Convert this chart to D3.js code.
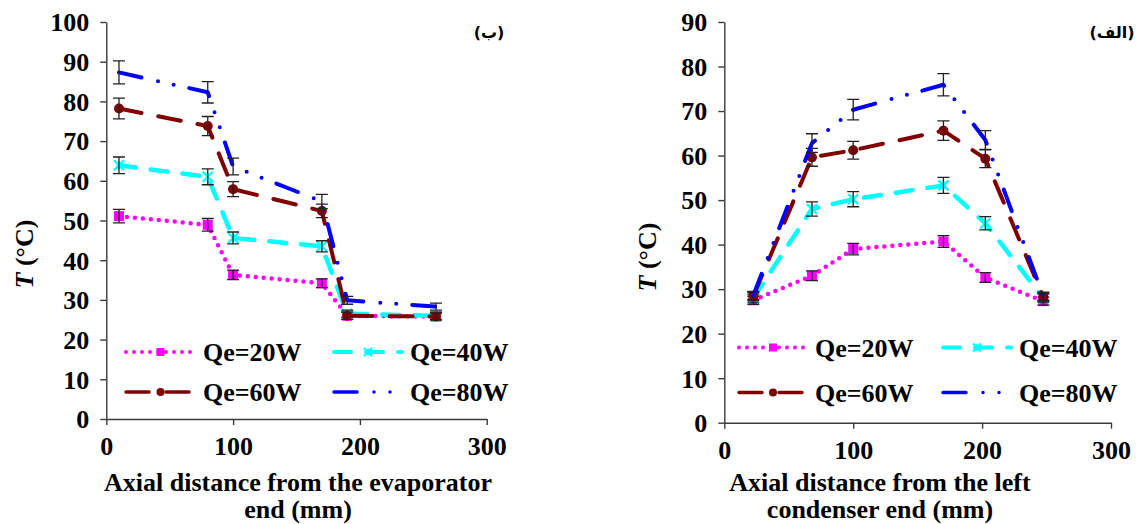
<!DOCTYPE html>
<html><head><meta charset="utf-8">
<script src="https://cdn.jsdelivr.net/npm/d3@7"></script>
<style>
html,body{margin:0;padding:0;background:#fff;}
svg{display:block;font-family:"Liberation Serif","Times New Roman",serif;}
</style></head>
<body><svg id="c" width="1138" height="524"></svg>
<script>
// ---------- data ----------
const seriesNames = ["Qe=20W","Qe=40W","Qe=60W","Qe=80W"];

// left panel (ب)
const leftX = [10, 80, 100, 170, 190, 260];
const leftQ20 = [51.1, 48.9, 36.3, 34.2, 26.0, 25.8];
const leftQ40 = [63.9, 61.0, 45.6, 43.5, 26.5, 26.0];
const leftQ60 = [78.2, 73.8, 57.9, 52.4, 26.0, 25.8];
const leftQ80 = [87.3, 82.3, 63.6, 54.8, 29.9, 28.3];
const leftE20 = [1.7, 1.6, 1.2, 1.1, 0.9, 0.9];
const leftE40 = [2.1, 2.0, 1.5, 1.4, 0.9, 0.9];
const leftE60 = [2.6, 2.4, 1.9, 1.7, 0.9, 0.9];
const leftE80 = [2.9, 2.7, 2.1, 1.8, 1.0, 0.9];
const leftYTicks = [0,10,20,30,40,50,60,70,80,90,100];

// right panel (الف)
const rightX = [22.5, 68, 100, 170, 202.5, 247.5];
const rightQ20 = [27.5, 33.0, 39.0, 40.7, 32.6, 27.3];
const rightQ40 = [28.0, 48.0, 50.2, 53.3, 44.8, 28.0];
const rightQ60 = [28.4, 59.6, 61.2, 65.6, 59.3, 28.2];
const rightQ80 = [28.6, 62.8, 70.3, 75.9, 63.5, 28.4];
const rightE20 = [0.9, 1.1, 1.3, 1.3, 1.1, 0.9];
const rightE40 = [0.9, 1.6, 1.7, 1.8, 1.5, 0.9];
const rightE60 = [0.9, 2.0, 2.0, 2.2, 2.0, 0.9];
const rightE80 = [0.9, 2.1, 2.3, 2.5, 2.1, 0.9];
const rightYTicks = [0,10,20,30,40,50,60,70,80,90];

const xTicks = [0,100,200,300];

// ---------- styles ----------
const styles = [
  {color:"#FF00FF", dash:"0 8", cap:"round", width:4.5, marker:"square"},
  {color:"#00FFFF", dash:"17 15", cap:"round", width:4.5, marker:"star"},
  {color:"#800000", dash:"23 17", cap:"round", width:4, marker:"circle"},
  {color:"#0000FF", dash:"23 17 0 16 0 16", cap:"round", width:4, marker:"none"}
];

const svg = d3.select("#c");
const AX = "#3a3a3a";
const FS = 26;

function drawMarker(g, type, color, x, y, s){
  if(type==="square"){
    g.append("rect").attr("x",x-s/2).attr("y",y-s/2).attr("width",s).attr("height",s).attr("fill",color);
  } else if(type==="circle"){
    g.append("circle").attr("cx",x).attr("cy",y).attr("r",s/2).attr("fill",color);
  } else if(type==="star"){
    const h=s/2;
    g.append("path").attr("d",`M${x-h},${y-h}L${x+h},${y+h}M${x-h},${y+h}L${x+h},${y-h}M${x},${y-h*0.8}L${x},${y+h*0.8}`)
      .attr("stroke",color).attr("stroke-width",2.2).attr("fill","none");
  }
}

function panel(cfg){
  const x = d3.scaleLinear().domain([0,300]).range(cfg.xr);
  const y = d3.scaleLinear().domain([0,cfg.ymax]).range(cfg.yr);
  const g = svg.append("g");

  // axes
  const xa = g.append("g").attr("transform",`translate(0,${y(0)})`)
    .call(d3.axisBottom(x).tickValues(xTicks).tickSize(6).tickSizeOuter(0).tickFormat(d3.format("d")));
  const ya = g.append("g").attr("transform",`translate(${x(0)},0)`)
    .call(d3.axisLeft(y).tickValues(cfg.yticks).tickSize(6).tickSizeOuter(0).tickFormat(d3.format("d")));
  [xa,ya].forEach(a=>{
    a.selectAll("path,line").attr("stroke",AX).attr("stroke-width",1.4);
    a.selectAll("text").attr("fill","#000").attr("font-size",FS).attr("font-weight","bold")
      .attr("font-family","Liberation Serif, Times New Roman, serif");
  });
  xa.selectAll("text").attr("dy",null).attr("y",36);
  ya.selectAll("text").attr("x",-17).attr("dy","0.34em");

  // series
  cfg.series.forEach((vals,i)=>{
    const st = styles[i];
    const errs = cfg.errs[i];
    const pts = cfg.xs.map((xv,j)=>[xv,vals[j],errs[j]]);
    const sg = g.append("g");
    sg.append("path").datum(pts)
      .attr("d", d3.line().x(d=>x(d[0])).y(d=>y(d[1])))
      .attr("fill","none").attr("stroke",st.color).attr("stroke-width",st.width)
      .attr("stroke-dasharray",st.dash).attr("stroke-linecap",st.cap).attr("stroke-linejoin","round");
    pts.forEach(d=>drawMarker(sg, st.marker, st.color, x(d[0]), y(d[1]), 10));
    // error bars
    const eg = sg.append("g").attr("stroke","#222").attr("stroke-width",1.3).attr("fill","none");
    pts.forEach(d=>{
      const cx = x(d[0]), y1 = y(d[1]+d[2]), y2 = y(d[1]-d[2]);
      eg.append("path").attr("d",`M${cx},${y1}L${cx},${y2}M${cx-6},${y1}L${cx+6},${y1}M${cx-6},${y2}L${cx+6},${y2}`);
    });
  });

  // legend
  const lg = g.append("g");
  seriesNames.forEach((name,i)=>{
    const st = styles[i];
    const col = i%2, row = Math.floor(i/2);
    const lx0 = cfg.leg.x[col], lx1 = cfg.leg.x2[col], ly = cfg.leg.y[row];
    lg.append("line").attr("x1",lx0).attr("x2",lx1).attr("y1",ly).attr("y2",ly)
      .attr("stroke",st.color).attr("stroke-width",st.width-0.5)
      .attr("stroke-dasharray",st.dash).attr("stroke-linecap",st.cap);
    drawMarker(lg, st.marker, st.color, (lx0+lx1)/2, ly, 8);
    lg.append("text").attr("x",cfg.leg.tx[col]).attr("y",ly+cfg.leg.dy)
      .attr("font-size",FS).attr("font-weight","bold").text(name);
  });

  // axis titles
  const xt = g.append("text").attr("text-anchor","middle").attr("font-size",FS).attr("font-weight","bold");
  cfg.xtitle.forEach((t,k)=>xt.append("tspan").attr("x",cfg.xtc).attr("y",cfg.xty[k]).text(t));
  const yt = g.append("text").attr("text-anchor","middle").attr("font-size",FS).attr("font-weight","bold")
    .attr("transform",`translate(${cfg.ytx},${cfg.yty}) rotate(-90)`);
  yt.append("tspan").attr("font-style","italic").text("T");
  yt.append("tspan").text(" (°C)");

  // panel label
  g.append("text").attr("x",cfg.lab.x).attr("y",cfg.lab.y).attr("text-anchor","middle")
    .attr("font-family","DejaVu Sans, Noto Sans, sans-serif").attr("font-size",16).attr("font-weight","bold")
    .attr("direction","rtl").text(cfg.lab.t);
}

panel({
  xr:[106.3,486.7], yr:[419,22], ymax:100, yticks:leftYTicks,
  xs:leftX, series:[leftQ20,leftQ40,leftQ60,leftQ80], errs:[leftE20,leftE40,leftE60,leftE80],
  leg:{x:[126,334], x2:[195,402], tx:[203,410], y:[352,392], dy:9},
  xtitle:["Axial distance from the evaporator","end (mm)"], xtc:298, xty:[491,518],
  ytx:33, yty:254,
  lab:{x:489, y:38, t:"(ب)"}
});

panel({
  xr:[724.3,1111], yr:[422.7,22], ymax:90, yticks:rightYTicks,
  xs:rightX, series:[rightQ20,rightQ40,rightQ60,rightQ80], errs:[rightE20,rightE40,rightE60,rightE80],
  leg:{x:[739,943], x2:[807,1011], tx:[815,1019], y:[347.5,392.5], dy:9},
  xtitle:["Axial distance from the left","condenser end (mm)"], xtc:880, xty:[491,518],
  ytx:656, yty:257,
  lab:{x:1112, y:38, t:"(الف)"}
});
</script></body></html>
